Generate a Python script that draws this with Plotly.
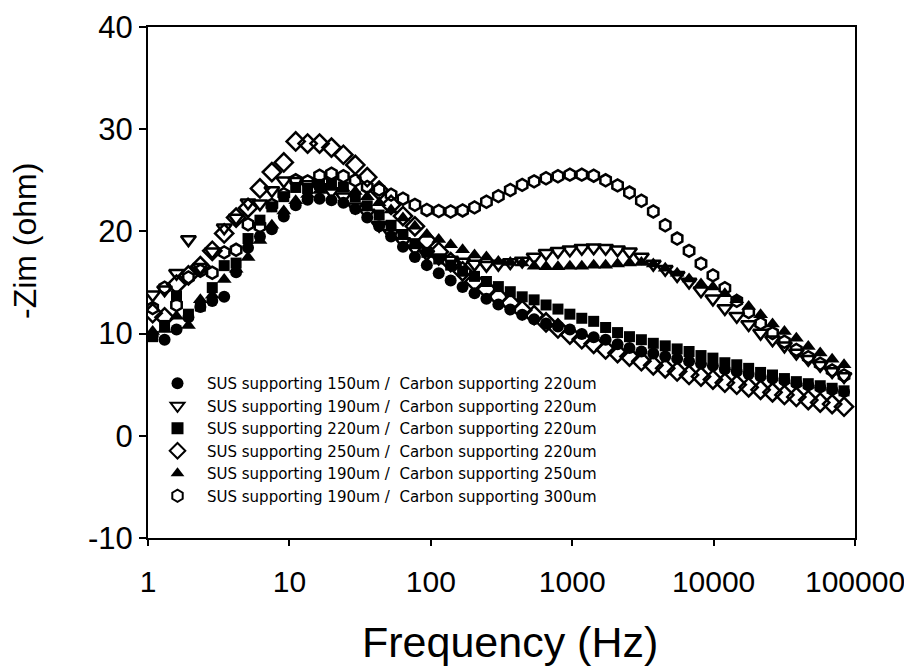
import plotly.graph_objects as go

freq_hz = [1.079, 1.31, 1.591, 1.932, 2.346, 2.848, 3.458, 4.199, 5.098, 6.19, 7.516, 9.127,
           11.08, 13.45, 16.34, 19.84, 24.09, 29.25, 35.51, 43.12, 52.36, 63.57, 77.19, 93.74,
           113.8, 138.2, 167.8, 203.8, 247.4, 300.4, 364.8, 442.9, 537.8, 653.0, 792.9, 962.7,
           1169, 1419, 1723, 2093, 2541, 3085, 3746, 4549, 5524, 6707, 8144, 9888,
           12010, 14580, 17700, 21490, 26100, 31690, 38480, 46720, 56740, 68890, 83650]

sus150_c220 = [9.8, 9.4, 10.4, 11.6, 12.6, 13.2, 13.6, 16.0, 18.4, 19.5, 20.2, 21.45, 22.55, 23.1, 23.2, 23.05, 22.8, 22.2, 21.35,
               20.5, 19.5, 18.5, 17.5, 16.7, 15.9, 15.2, 14.55, 13.95, 13.4, 12.85, 12.35, 11.85, 11.4, 11.0, 10.7, 10.4,
               9.95, 9.65, 9.4, 8.95, 8.6, 8.25, 8.05, 7.75, 7.55, 7.3, 7.05, 6.85,
               6.5, 6.3, 6.05, 5.8, 5.6, 5.4, 5.15, 4.95, 4.75, 4.5, 4.3]

sus190_c220 = [13.8, 14.3, 15.9, 19.2, 16.5, 18.0, 20.35, 21.3, 22.8, 22.7, 24.0, 24.95, 24.9, 24.6, 24.3, 23.9, 23.4, 22.4, 21.8,
               20.6, 19.8, 19.0, 18.3, 17.8, 17.4, 17.2, 17.0, 16.8, 16.7, 16.8, 16.95, 17.1, 17.5, 17.85, 18.05, 18.2,
               18.35, 18.4, 18.35, 18.2, 18.0, 17.5, 16.8, 16.3, 15.7, 15.05, 14.2, 13.4,
               12.45, 11.7, 10.9, 10.05, 9.4, 8.8, 8.1, 7.5, 6.9, 6.3, 5.8]

sus220_c220 = [9.7, 10.8, 13.7, 11.9, 12.7, 14.5, 16.65, 16.9, 19.3, 21.1, 22.4, 23.4, 24.3, 24.2, 24.6, 24.7, 24.35, 23.4, 22.5,
               21.6, 20.6, 19.7, 18.8, 17.95, 17.3, 16.7, 16.1, 15.6, 15.1, 14.6, 14.1, 13.6, 13.3, 12.8, 12.4, 11.9,
               11.5, 11.2, 10.6, 10.1, 9.7, 9.4, 9.05, 8.8, 8.5, 8.25, 7.85, 7.6,
               7.15, 6.95, 6.6, 6.2, 5.95, 5.6, 5.3, 5.1, 4.9, 4.65, 4.4]

sus250_c220 = [12.0, 11.6, 14.8, 15.7, 16.6, 18.1, 19.8, 21.35, 22.3, 24.2, 25.8, 26.75, 28.8, 28.6, 28.6, 28.2, 27.5, 26.5, 25.3,
               24.0, 22.6, 21.5, 20.5, 19.1, 18.0, 17.0, 16.1, 15.1, 14.35, 13.6, 13.0, 12.3, 11.8, 11.1, 10.5, 9.9,
               9.45, 9.0, 8.45, 8.1, 7.75, 7.3, 6.9, 6.6, 6.3, 5.95, 5.8, 5.5,
               5.2, 5.0, 4.75, 4.5, 4.25, 4.0, 3.8, 3.5, 3.25, 3.1, 2.85]

sus190_c250 = [10.2, 10.4, 11.7, 10.8, 13.3, 13.75, 15.3, 16.3, 17.45, 19.1, 20.6, 22.0, 23.0, 23.6, 24.0, 24.3, 24.2, 23.9, 23.4,
               22.8, 22.1, 21.3, 20.5, 19.7, 19.2, 18.7, 18.2, 17.7, 17.5, 17.05, 16.95, 16.9, 16.6, 16.55, 16.55, 16.6,
               16.6, 16.7, 16.7, 16.8, 16.9, 16.95, 16.8, 16.4, 15.9, 15.35, 14.85, 14.55,
               13.9, 13.3, 12.65, 11.85, 10.95, 10.2, 9.55, 8.75, 8.1, 7.5, 6.95]

sus190_c300 = [12.5, 14.5, 12.8, 15.5, 16.15, 15.95, 17.95, 18.2, 20.7, 20.5, 22.6, 23.65, 25.0, 24.9, 25.45, 25.65, 25.4, 25.0, 24.35,
               24.1, 23.6, 23.2, 22.6, 22.1, 22.0, 21.95, 22.05, 22.35, 22.9, 23.45, 24.05, 24.55, 24.9, 25.2, 25.4, 25.55,
               25.55, 25.45, 25.0, 24.5, 23.8, 23.0, 21.95, 20.6, 19.3, 18.1, 16.85, 15.7,
               14.45, 13.2, 12.1, 11.0, 10.05, 9.2, 8.4, 7.7, 7.05, 6.4, 5.9]

series_names = [
    "SUS supporting 150um /&nbsp; Carbon supporting 220um",
    "SUS supporting 190um /&nbsp; Carbon supporting 220um",
    "SUS supporting 220um /&nbsp; Carbon supporting 220um",
    "SUS supporting 250um /&nbsp; Carbon supporting 220um",
    "SUS supporting 190um /&nbsp; Carbon supporting 250um",
    "SUS supporting 190um /&nbsp; Carbon supporting 300um",
]
x_tick_vals = [1, 10, 100, 1000, 10000, 100000]
x_tick_text = ["1", "10", "100", "1000", "10000", "100000"]
y_tick_vals = [-10, 0, 10, 20, 30, 40]
y_tick_text = ["-10", "0", "10", "20", "30", "40"]

series_values = [sus150_c220, sus190_c220, sus220_c220, sus250_c220, sus190_c250, sus190_c300]
symbols = ["circle", "triangle-down-open", "square", "diamond-open", "triangle-up", "hexagon-open"]
sizes = [12, 13, 11, 14, 13, 12]

FONT = "Arial, Liberation Sans, sans-serif"
LEG_FONT = "DejaVu Sans, sans-serif"

fig = go.Figure()
for name, vals, sym, sz in zip(series_names, series_values, symbols, sizes):
    fig.add_trace(go.Scatter(
        x=freq_hz, y=vals, mode="markers", name=name,
        marker=dict(symbol=sym, size=sz, color="black",
                    line=dict(color="black", width=2.5 if "open" in sym else 0)),
        cliponaxis=True,
    ))

fig.update_layout(
    width=904, height=670,
    margin=dict(l=148, r=49, t=27, b=132, autoexpand=False),
    paper_bgcolor="white", plot_bgcolor="white",
    font=dict(family=FONT, color="black"),
    showlegend=True,
    legend=dict(x=(148 - 148) / 707, y=(538 - 367) / 511, xanchor="left", yanchor="top",
                font=dict(family=LEG_FONT, size=15, color="black"),
                bgcolor="rgba(0,0,0,0)", itemwidth=49, itemsizing="constant", tracegroupgap=0),
)
fig.update_xaxes(type="log", range=[0, 5], tickvals=x_tick_vals, ticktext=x_tick_text,
                 showgrid=False, zeroline=False, showline=True, linecolor="black", linewidth=2,
                 mirror=True, ticks="outside", ticklen=6, tickwidth=2, tickcolor="black",
                 ticklabelstandoff=10, ticklabeloverflow="allow", automargin=False,
                 tickfont=dict(family=FONT, size=30, color="black"))
fig.update_yaxes(range=[-10, 40], tickvals=y_tick_vals, ticktext=y_tick_text,
                 showgrid=False, zeroline=False, showline=True, linecolor="black", linewidth=2,
                 mirror=True, ticks="outside", ticklen=7, tickwidth=2, tickcolor="black",
                 ticklabelstandoff=0, automargin=False,
                 tickfont=dict(family=FONT, size=31, color="black"))
fig.add_annotation(text="Frequency (Hz)", xref="paper", yref="paper",
                   x=(510 - 148) / 707, y=-(642 - 538) / 511, xanchor="center", yanchor="middle",
                   showarrow=False, font=dict(family=FONT, size=43, color="black"))
fig.add_annotation(text="-Zim (ohm)", xref="paper", yref="paper", textangle=-90,
                   x=-(148 - 25) / 707, y=(538 - 241) / 511, xanchor="center", yanchor="middle",
                   showarrow=False, font=dict(family=FONT, size=32, color="black"))

fig.write_html("out.html", config={"displayModeBar": False},
               post_script="document.body.style.margin='0';document.body.style.overflow='hidden';")
